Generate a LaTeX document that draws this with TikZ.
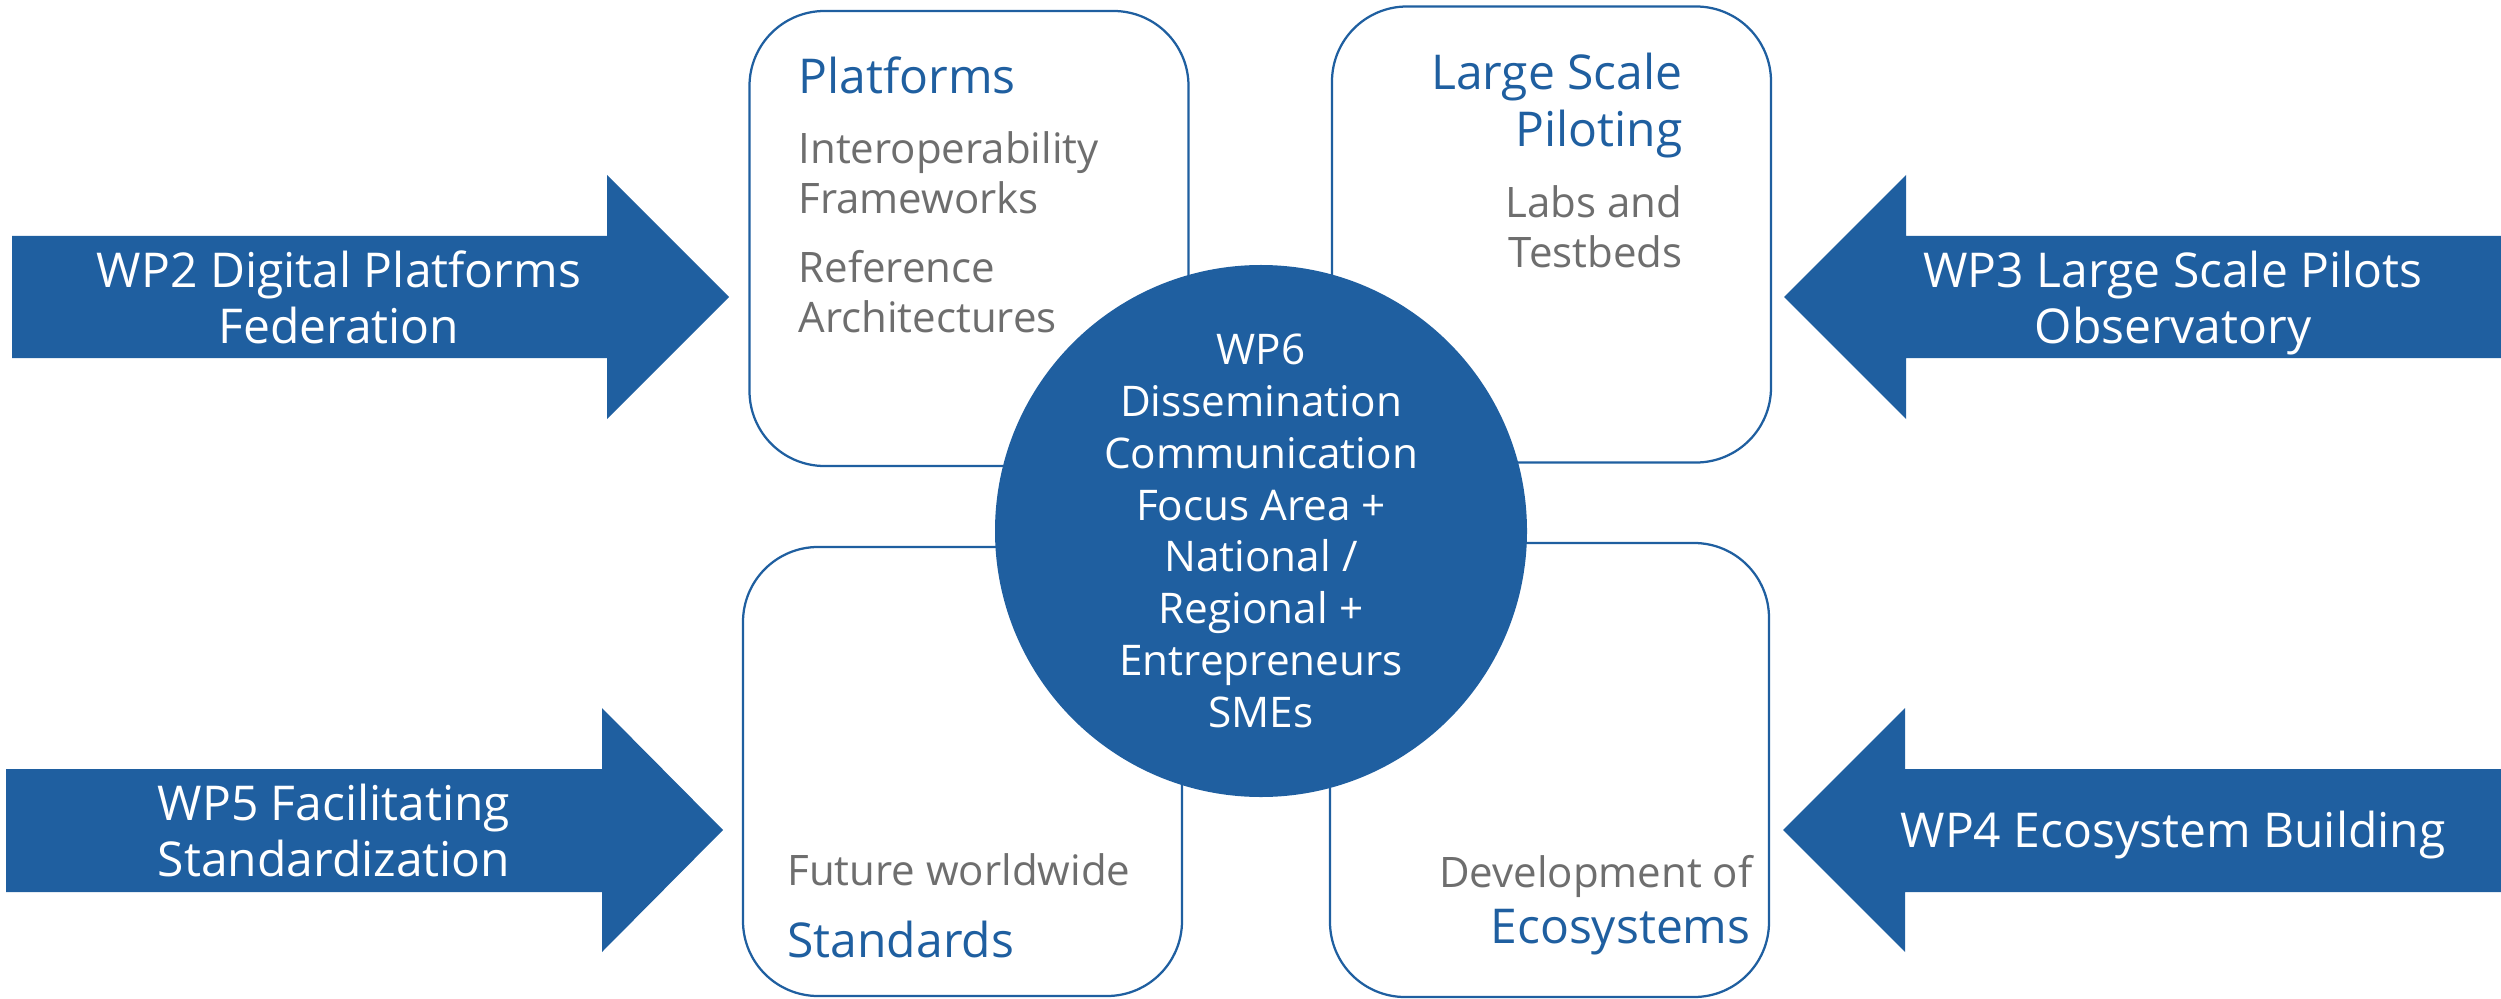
\documentclass[tikz,border=0pt]{standalone}
\usepackage{fontspec}
\setmainfont{Open Sans}
\definecolor{wpblue}{HTML}{1F5FA0}
\definecolor{wpgray}{HTML}{6E6E6E}
\begin{document}
\begin{tikzpicture}[x=0.4pt,y=-0.4pt,
  arrowshape/.style={fill=wpblue,draw=none},
  arrowtext/.style={text=white,font=\fontsize{19.2pt}{22.4pt}\selectfont,align=center,inner sep=0pt,anchor=base},
  box/.style={draw=wpblue,line width=0.9pt,rounded corners=30pt,fill=white,inner sep=0pt,minimum width=175.6pt},
  titletext/.style={text=wpblue,font=\fontsize{19.2pt}{22.8pt}\selectfont,inner sep=0pt},
  bodytext/.style={text=wpgray,font=\fontsize{16.8pt}{20pt}\selectfont,inner sep=0pt},
  hub/.style={circle,fill=wpblue,draw=none,minimum size=212.8pt,inner sep=0pt,text=white,font=\fontsize{16.9pt}{20.7pt}\selectfont,align=center}
]
\useasboundingbox (0,0) rectangle (2501,999);

% block arrows
\fill[arrowshape] (12,236) -- (607,236) -- (607,175) -- (729,297) -- (607,419) -- (607,358) -- (12,358) -- cycle;
\fill[arrowshape] (2501,236) -- (1906,236) -- (1906,175) -- (1784,297) -- (1906,419) -- (1906,358) -- (2501,358) -- cycle;
\fill[arrowshape] (6,769) -- (602,769) -- (602,708) -- (723,830) -- (602,952) -- (602,892) -- (6,892) -- cycle;
\fill[arrowshape] (2501,769) -- (1905,769) -- (1905,708) -- (1783,830) -- (1905,952) -- (1905,892) -- (2501,892) -- cycle;

% (anchor=base of a multi-line node is the baseline of its last line)
\node[arrowtext] (t2) at (339,343) {WP2 Digital Platforms\\Federation};
\node[arrowtext] (t3) at (2173,343) {WP3 Large Scale Pilots\\Observatory};
\node[arrowtext] (t5) at (334,876) {WP5 Facilitating\\Standardization};
\node[arrowtext] (t4) at (2173,847) {WP4 Ecosystem Building};

% rounded boxes
\node[box,minimum height=182pt] (bplat) at (969,238.5) {};
\node[box,minimum height=182.4pt] (blsp) at (1551.5,234.5) {};
\node[box,minimum height=179.6pt] (bstd) at (962.5,771.5) {};
\node[box,minimum height=181.6pt] (beco) at (1549.5,770) {};

% centre circle
\node[hub] (wp6) at (1261,531) {WP6\\Dissemination\\Communication\\Focus Area +\\National /\\Regional +\\Entrepreneurs\\SMEs};

% box texts
\node[titletext,anchor=base west] (platT) at (798,94) {Platforms};
\node[bodytext,anchor=base west,align=left] (platB) at (798,332) {Interoperability\\Frameworks\\[7.6pt]Reference\\Architectures};
\node[titletext,anchor=base east,align=right] (lspT) at (1683,147) {Large Scale\\Piloting};
\node[bodytext,anchor=base east,align=right] (lspB) at (1683,267) {Labs and\\Testbeds};
\node[bodytext,anchor=base west] (stdB) at (787,885) {Future worldwide};
\node[titletext,anchor=base west] (stdT) at (787,957) {Standards};
\node[bodytext,anchor=base east] (ecoB) at (1753,887) {Development of};
\node[titletext,anchor=base east] (ecoT) at (1751,943) {Ecosystems};
\end{tikzpicture}
\end{document}
